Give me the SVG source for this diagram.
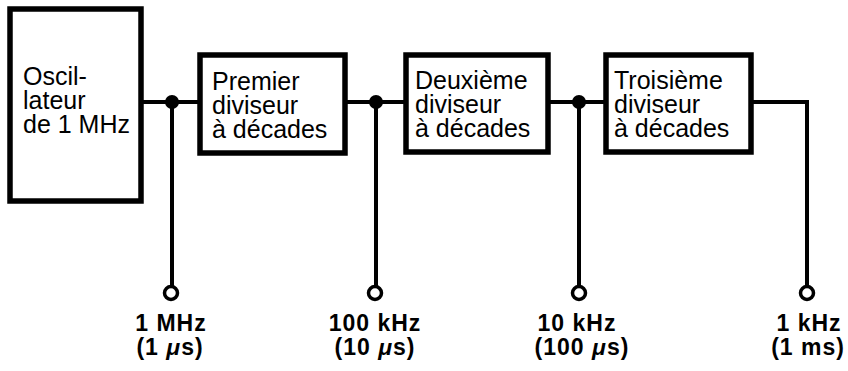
<svg xmlns="http://www.w3.org/2000/svg" width="848" height="371" viewBox="0 0 848 371">
<style>
.box{fill:#fff;stroke:#000;stroke-width:5.5}
.t{font-family:"Liberation Sans",Arial,sans-serif;font-size:25px;fill:#000}
.lbl{font-family:"Liberation Sans",Arial,sans-serif;font-size:23px;font-weight:bold;fill:#000;text-anchor:middle;letter-spacing:1px}
.w{fill:none;stroke:#000;stroke-width:4}
.dot{fill:#000}
.term{fill:#fff;stroke:#000;stroke-width:3.5}
</style>
<rect width="848" height="371" fill="#fff"/>
<g id="connectors">
<path class="w" d="M143,102 H202"/>
<path class="w" d="M172,102 V286"/>
<circle class="dot" cx="172" cy="102" r="7"/>
<path class="w" d="M345,102 H408"/>
<path class="w" d="M376,102 V286"/>
<circle class="dot" cx="376" cy="102" r="7"/>
<path class="w" d="M548,102 H608"/>
<path class="w" d="M579,102 V286"/>
<circle class="dot" cx="579" cy="102" r="7"/>
<path class="w" d="M751,102 H807 V286"/>
</g>
<g id="osc">
<rect class="box" x="10" y="9" width="131" height="192"/>
<text class="t" x="23" y="85">Oscil-</text>
<text class="t" x="23" y="109">lateur</text>
<text class="t" x="23" y="133">de 1 MHz</text>
</g>
<g id="div1">
<rect class="box" x="200" y="55" width="145" height="98"/>
<text class="t" x="212" y="90">Premier</text>
<text class="t" x="212" y="114">diviseur</text>
<text class="t" x="212" y="138">à décades</text>
</g>
<g id="div2">
<rect class="box" x="406" y="55" width="142" height="97"/>
<text class="t" x="415" y="89">Deuxième</text>
<text class="t" x="415" y="113">diviseur</text>
<text class="t" x="415" y="137">à décades</text>
</g>
<g id="div3">
<rect class="box" x="606" y="55" width="145" height="97"/>
<text class="t" x="614" y="89">Troisième</text>
<text class="t" x="614" y="113">diviseur</text>
<text class="t" x="614" y="137">à décades</text>
</g>
<g id="out1">
<circle class="term" cx="171" cy="293" r="6.5"/>
<text class="lbl" x="171" y="331">1 MHz</text>
<text class="lbl" x="170" y="355">(1 <tspan font-style="italic">μ</tspan>s)</text>
</g>
<g id="out2">
<circle class="term" cx="375" cy="293" r="6.5"/>
<text class="lbl" x="375" y="331">100 kHz</text>
<text class="lbl" x="375" y="355">(10 <tspan font-style="italic">μ</tspan>s)</text>
</g>
<g id="out3">
<circle class="term" cx="579" cy="293" r="6.5"/>
<text class="lbl" x="577" y="331">10 kHz</text>
<text class="lbl" x="582" y="355">(100 <tspan font-style="italic">μ</tspan>s)</text>
</g>
<g id="out4">
<circle class="term" cx="807" cy="293" r="6.5"/>
<text class="lbl" x="809" y="331">1 kHz</text>
<text class="lbl" x="808" y="355" letter-spacing="0">(1 ms)</text>
</g>
</svg>
